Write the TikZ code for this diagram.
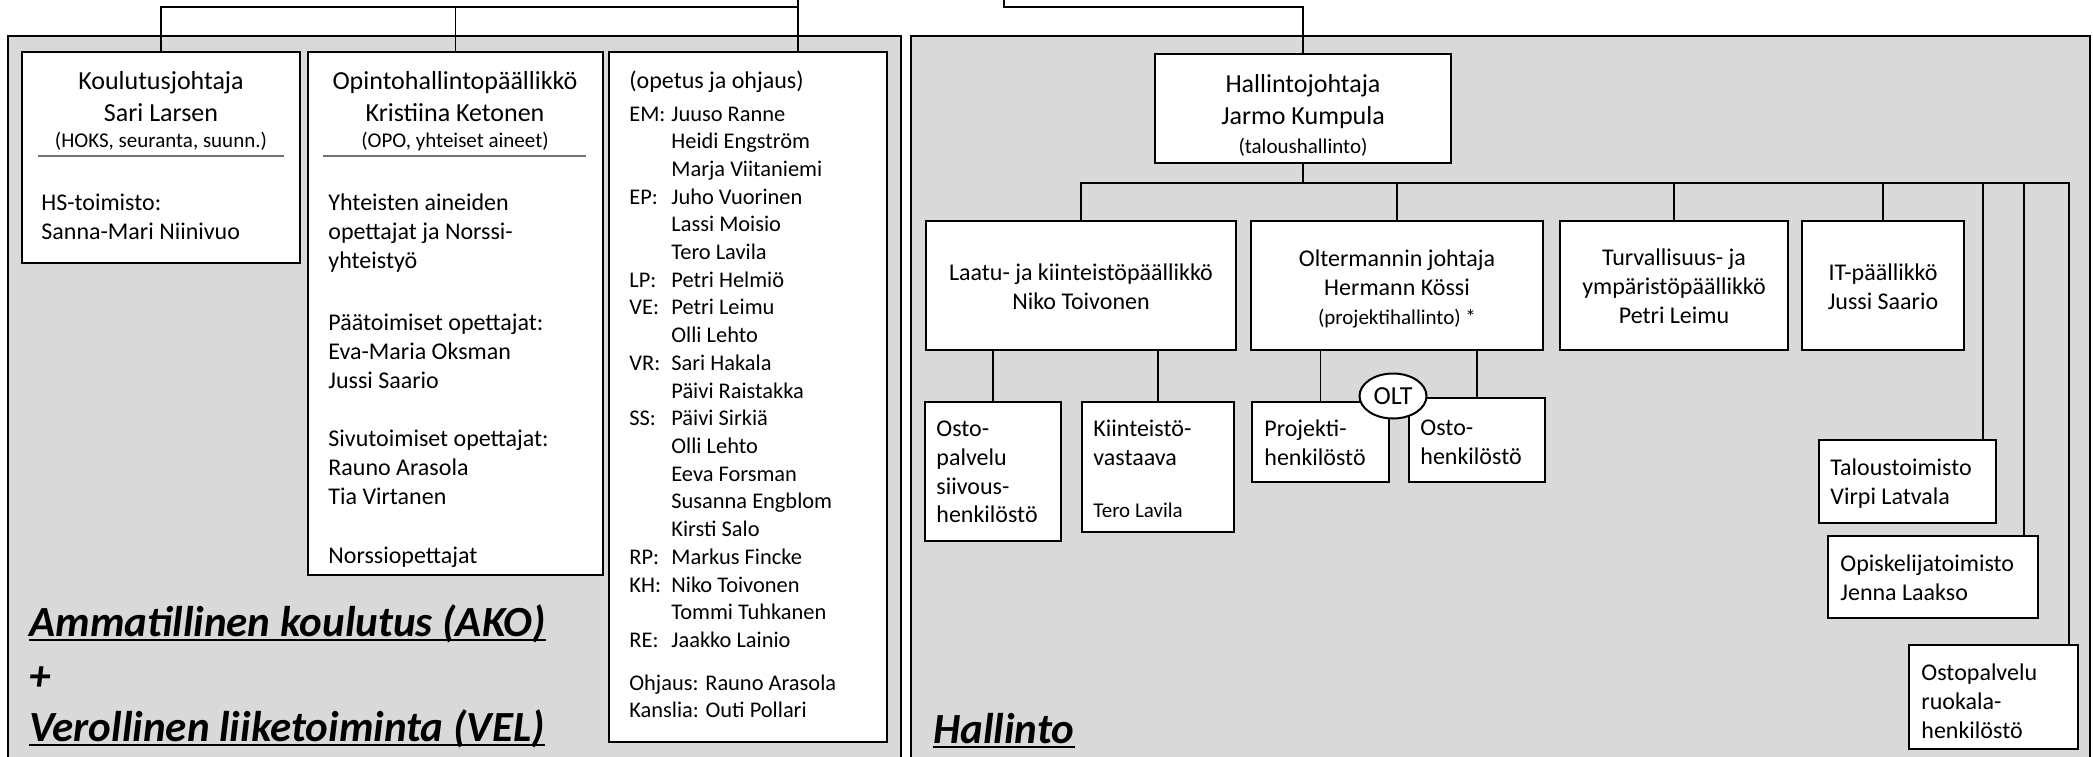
\documentclass[tikz,border=0pt]{standalone}
\usepackage{fontspec}
\setmainfont{Carlito}
\usetikzlibrary{fit,shapes.geometric}
\definecolor{panelgray}{HTML}{D9D9D9}
\newcommand\fs[2]{\fontsize{#1}{#2}\selectfont}
\newcommand\leftlines[1]{\begin{tabular}[t]{@{}l@{}}#1\end{tabular}}
\newcommand\centerlines[1]{\begin{tabular}[t]{@{}c@{}}#1\end{tabular}}
\begin{document}
\begin{tikzpicture}[x=0.5pt,y=-0.5pt,
  panel/.style={draw=black, line width=1pt, fill=panelgray},
  box/.style={draw=black, line width=1pt, fill=white, inner sep=0pt, rectangle},
  conn/.style={draw=black, line width=0.9pt},
  sep/.style={draw=black!55, line width=0.6pt},
  txt/.style={inner sep=0pt, anchor=base west},
  ctxt/.style={inner sep=0pt, anchor=base},
  big/.style={inner sep=0pt, anchor=base west, font=\fs{21.5}{25}\bfseries\itshape},
  head/.style={font=\fs{13}{16}},
  sub/.style={font=\fs{10.5}{13}},
  norm/.style={font=\fs{12}{14.4}},
  list/.style={font=\fs{11.2}{13.855}},
]
\useasboundingbox (0,0) rectangle (2093,756);
% panels
\path[panel] (8,36) rectangle (901,790);
\path[panel] (911,36) rectangle (2090,790);
% levels
\coordinate (lev1) at (0,7);
\coordinate (lev2) at (0,183);
\coordinate (topL) at (798,-10);
\coordinate (topR) at (1004,-10);
% boxes left
\node[box, fit={(22,52) (300,263)}] (kj) {};
\node[box, fit={(308,52) (603,575)}] (oh) {};
\node[box, fit={(609,52) (887,742)}] (op) {};
% boxes right
\node[box, fit={(1155,54) (1451,163)}] (hj) {};
\node[box, fit={(926,221) (1236,350)}] (laatu) {};
\node[box, fit={(1251,221) (1543,350)}] (oltj) {};
\node[box, fit={(1560,221) (1788,350)}] (turv) {};
\node[box, fit={(1802,221) (1964,350)}] (it) {};
\node[box, fit={(925,402) (1061,541)}] (osto) {};
\node[box, fit={(1082,402) (1234,532)}] (kiin) {};
\node[box, fit={(1252,402) (1389,482)}] (proj) {};
\node[box, fit={(1409,398) (1545,482)}] (ostoh) {};
\node[box, fit={(1819,440) (1996,523)}] (talous) {};
\node[box, fit={(1828,536) (2038,618)}] (opisk) {};
\node[box, fit={(1909,645) (2078,749)}] (ruok) {};
% connectors top
\draw[conn] (topL) -- (op.north -| topL);
\draw[conn] (kj.north) |- (topL |- lev1);
\draw[conn] (oh.north) -- (oh.north |- lev1);
\draw[conn] (topR) |- (hj.north |- lev1) -- (hj.north);
% hallinto tree
\draw[conn] (hj.south) -- (hj.south |- lev2);
\draw[conn] (laatu.north) |- (hj.south |- lev2);
\draw[conn] (oltj.north) -- (oltj.north |- lev2);
\draw[conn] (turv.north) -- (turv.north |- lev2);
\draw[conn] (it.north) -- (it.north |- lev2);
\coordinate (c1) at ([xshift=-7pt]talous.north east);
\coordinate (c2) at ([xshift=-7.5pt]opisk.north east);
\coordinate (c3) at ([xshift=-5pt]ruok.north east);
\draw[conn] (c1) -- (c1 |- lev2);
\draw[conn] (c2) -- (c2 |- lev2);
\draw[conn] (c3) |- (hj.south |- lev2);
\draw[conn] (osto.north) -- (osto.north |- laatu.south);
\draw[conn] (kiin.north) -- (kiin.north |- laatu.south);
\draw[conn] (proj.north) -- (proj.north |- oltj.south);
\draw[conn] (ostoh.north) -- (ostoh.north |- oltj.south);
\node[draw=black, line width=1pt, fill=white, ellipse, inner sep=0pt, minimum width=33.5pt, minimum height=22.5pt, font=\fs{13}{16}] (olt) at (1393,396) {OLT};
% separators
\draw[sep] (38,156) -- (284,156);
\draw[sep] (323,156) -- (586,156);
% texts left
\node[ctxt, head] (kjt) at (161,89) {\centerlines{Koulutusjohtaja\\Sari Larsen}};
\node[ctxt, sub] (kjs) at (161,147) {(HOKS, seuranta, suunn.)};
\node[txt, norm] (kjh) at (41,210.5) {\leftlines{HS-toimisto:\\Sanna-Mari Niinivuo}};
\node[ctxt, head] (oht) at (455,89) {\centerlines{Opintohallintopäällikkö\\Kristiina Ketonen}};
\node[ctxt, sub] (ohs) at (455,147) {(OPO, yhteiset aineet)};
\node[txt, norm] (oh1) at (328,210.5) {\leftlines{Yhteisten aineiden\\opettajat ja Norssi-\\yhteistyö}};
\node[txt, norm] (oh2) at (328,330.5) {\leftlines{Päätoimiset opettajat:\\Eva-Maria Oksman\\Jussi Saario}};
\node[txt, norm] (oh3) at (328,446.5) {\leftlines{Sivutoimiset opettajat:\\Rauno Arasola\\Tia Virtanen}};
\node[txt, norm] (oh4) at (328,563.5) {Norssiopettajat};
\node[txt, norm] (opt) at (629,88.5) {(opetus ja ohjaus)};
\node[txt, list] (opl) at (629,121) {\begin{tabular}[t]{@{}p{21pt}@{}l@{}}
EM:&Juuso Ranne\\ &Heidi Engström\\ &Marja Viitaniemi\\
EP:&Juho Vuorinen\\ &Lassi Moisio\\ &Tero Lavila\\
LP:&Petri Helmiö\\
VE:&Petri Leimu\\ &Olli Lehto\\
VR:&Sari Hakala\\ &Päivi Raistakka\\
SS:&Päivi Sirkiä\\ &Olli Lehto\\ &Eeva Forsman\\ &Susanna Engblom\\ &Kirsti Salo\\
RP:&Markus Fincke\\
KH:&Niko Toivonen\\ &Tommi Tuhkanen\\
RE:&Jaakko Lainio\end{tabular}};
\node[txt, list] (opk) at (629,690) {\leftlines{Ohjaus: Rauno Arasola\\Kanslia: Outi Pollari}};
\node[big] (ako) at (29,636) {Ammatillinen koulutus (AKO)};
\node[big] (plus) at (29,690) {+};
\node[big] (vel) at (29,741) {Verollinen liiketoiminta (VEL)};
\node[big] (hal) at (933,743) {Hallinto};
\draw[line width=1pt] ([yshift=-2pt]ako.base west) -- ([yshift=-2pt]ako.base east);
\draw[line width=1pt] ([yshift=-2pt]vel.base west) -- ([yshift=-2pt]vel.base east);
\draw[line width=1pt] ([yshift=-2pt]hal.base west) -- ([yshift=-2pt]hal.base east);
% texts right
\node[ctxt, head] (hjt) at (1303,92) {\centerlines{Hallintojohtaja\\Jarmo Kumpula}};
\node[ctxt, sub] (hjs) at (1303,153) {(taloushallinto)};
\node[ctxt, norm] (laatut) at (1081,280.5) {\centerlines{Laatu- ja kiinteistöpäällikkö\\Niko Toivonen}};
\node[ctxt, norm] (oltjt) at (1397,266.5) {\centerlines{Oltermannin johtaja\\Hermann Kössi}};
\node[ctxt, sub] (oltjs) at (1397,324) {(projektihallinto) *};
\node[ctxt, norm] (turvt) at (1674,265.5) {\centerlines{Turvallisuus- ja\\ympäristöpäällikkö\\Petri Leimu}};
\node[ctxt, norm] (itt) at (1883,280.5) {\centerlines{IT-päällikkö\\Jussi Saario}};
\node[txt, norm] (ostot) at (936,436.5) {\leftlines{Osto-\\palvelu\\siivous-\\henkilöstö}};
\node[txt, norm] (kiint) at (1093,436.5) {\leftlines{Kiinteistö-\\vastaava}};
\node[txt, sub] (kiins) at (1093,517) {Tero Lavila};
\node[txt, norm] (projt) at (1264,436.5) {\leftlines{Projekti-\\henkilöstö}};
\node[txt, norm] (ostoht) at (1420,435.5) {\leftlines{Osto-\\henkilöstö}};
\node[txt, norm] (taloust) at (1830,475.5) {\leftlines{Taloustoimisto\\Virpi Latvala}};
\node[txt, norm] (opiskt) at (1840,571.5) {\leftlines{Opiskelijatoimisto\\Jenna Laakso}};
\node[txt, norm] (ruokt) at (1921,680.5) {\leftlines{Ostopalvelu\\ruokala-\\henkilöstö}};
\end{tikzpicture}
\end{document}
